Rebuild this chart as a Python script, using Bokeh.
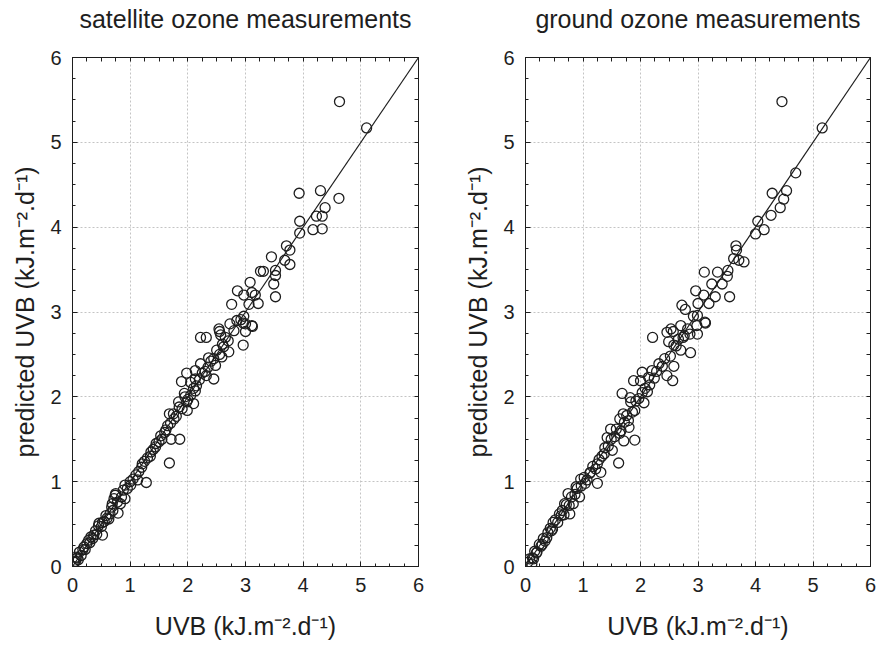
from bokeh.plotting import figure
from bokeh.layouts import row
from bokeh.models import LinearAxis, SingleIntervalTicker, FixedTicker, Range1d
from bokeh.embed import file_html
from bokeh.resources import INLINE

titles = ["satellite ozone measurements", "ground ozone measurements"]
x_label = "UVB (kJ.m\u207b\u00b2.d\u207b\u00b9)"
y_label = "predicted UVB (kJ.m\u207b\u00b2.d\u207b\u00b9)"
axis_min, axis_max = 0, 6
fit_line = [0, 6]

# satellite ozone: measured UVB vs predicted UVB
sat_obs = [
    4.63, 5.10, 3.93, 4.30, 4.62, 4.38, 4.23, 4.33, 3.94, 4.17, 4.33, 3.94, 3.71, 3.77, 3.45, 3.68, 3.77,
    3.26, 3.31, 3.52, 3.52, 3.49, 3.52, 3.08, 2.86, 2.97, 3.11, 3.17, 2.76, 3.06, 3.22, 2.97, 2.92, 2.73,
    3.11, 3.00, 2.54,
    2.22, 2.32, 2.55, 2.96, 3.12, 2.96, 3.00, 2.57, 2.62, 2.71, 2.59, 2.48, 2.36, 2.22, 2.32, 2.45, 2.13,
    1.98, 1.89, 2.05, 2.13, 2.13, 1.94, 1.84, 1.98, 2.10, 1.99, 1.68, 1.76, 1.53, 1.62, 1.71, 1.86, 1.44,
    1.36, 1.21, 1.68, 1.28, 1.13, 1.01, 0.91, 0.75, 0.74, 0.69, 0.83, 0.91, 0.79, 0.63, 0.52, 0.46, 0.37,
    0.52, 0.28, 0.20, 0.12, 0.06, 0.03,
    0.05, 0.08, 0.10, 0.15, 0.18, 0.22, 0.25, 0.30, 0.32, 0.35, 0.40, 0.42, 0.45, 0.50, 0.55, 0.58, 0.60,
    0.65, 0.68, 0.70, 0.72, 0.78, 0.85, 0.88, 0.95, 1.00, 1.05, 1.10, 1.15, 1.20, 1.25, 1.30, 1.35, 1.40,
    1.45, 1.50, 1.55, 1.60, 1.65, 1.70, 1.75, 1.80, 1.85, 1.90, 1.95, 2.00, 2.05, 2.10, 2.15, 2.20, 2.25,
    2.30, 2.35, 2.40, 2.45, 2.50, 2.55, 2.60, 2.65, 2.70, 2.80, 2.85,
]
sat_pred = [
    5.48, 5.17, 4.40, 4.43, 4.34, 4.23, 4.13, 4.13, 4.07, 3.97, 3.98, 3.93, 3.78, 3.73, 3.65, 3.61, 3.56,
    3.48, 3.48, 3.49, 3.43, 3.33, 3.18, 3.35, 3.25, 3.20, 3.23, 3.20, 3.09, 3.09, 3.10, 2.95, 2.91, 2.86,
    2.84, 2.86, 2.80,
    2.70, 2.70, 2.77, 2.87, 2.83, 2.61, 2.77, 2.73, 2.59, 2.53, 2.47, 2.37, 2.46, 2.39, 2.25, 2.21, 2.31,
    2.28, 2.18, 2.17, 2.21, 2.07, 2.04, 1.94, 1.94, 1.92, 1.84, 1.80, 1.74, 1.54, 1.61, 1.50, 1.50, 1.41,
    1.35, 1.21, 1.22, 0.99, 1.02, 0.96, 0.96, 0.86, 0.84, 0.74, 0.74, 0.80, 0.63, 0.56, 0.52, 0.51, 0.37,
    0.37, 0.31, 0.23, 0.17, 0.11, 0.05,
    0.06, 0.10, 0.08, 0.13, 0.20, 0.20, 0.27, 0.28, 0.35, 0.33, 0.42, 0.38, 0.48, 0.47, 0.53, 0.60, 0.57,
    0.62, 0.70, 0.66, 0.80, 0.76, 0.82, 0.90, 0.92, 1.00, 1.03, 1.08, 1.12, 1.17, 1.24, 1.28, 1.30, 1.38,
    1.45, 1.47, 1.50, 1.58, 1.66, 1.69, 1.80, 1.77, 1.88, 1.86, 2.00, 1.97, 2.02, 2.10, 2.13, 2.20, 2.28,
    2.30, 2.35, 2.42, 2.45, 2.55, 2.50, 2.62, 2.70, 2.66, 2.78, 2.90,
]

# ground ozone: measured UVB vs predicted UVB
gnd_obs = [
    4.46, 5.16, 4.70, 4.29, 4.54, 4.49, 4.43, 4.27, 4.04, 4.15, 4.00, 3.66, 3.67, 3.80, 3.71, 3.62, 3.52,
    3.34, 3.11, 3.51, 3.42, 3.24, 3.30, 3.55, 2.96, 3.10, 3.19, 3.00, 2.72, 2.78, 2.99, 3.12, 2.98, 2.70,
    2.53,
    2.21, 2.46, 2.57, 3.13, 2.74, 2.86, 2.99, 2.49, 2.58, 2.70, 2.87, 2.58, 2.56, 2.46, 2.32, 2.20, 2.14,
    2.03, 1.88, 2.00, 2.12, 1.68, 1.82, 1.83, 2.06, 1.90, 1.70, 1.79, 1.64, 1.80, 1.48, 1.42, 1.64, 1.90,
    1.71, 1.51, 1.37, 1.62, 1.25, 1.31, 1.13, 1.25, 0.96, 1.04, 0.88, 0.94, 0.74, 0.83, 0.77, 0.68, 0.62,
    0.48, 0.45, 0.37, 0.29, 0.20, 0.14, 0.11,
    0.04, 0.07, 0.12, 0.16, 0.19, 0.24, 0.27, 0.31, 0.34, 0.39, 0.43, 0.47, 0.52, 0.56, 0.59, 0.64, 0.67,
    0.71, 0.76, 0.80, 0.86, 0.90, 0.97, 1.02, 1.07, 1.12, 1.17, 1.22, 1.28, 1.33, 1.38, 1.44, 1.49, 1.55,
    1.58, 1.66, 1.72, 1.76, 1.86, 1.92, 1.97, 2.03, 2.08, 2.16, 2.24, 2.28, 2.38, 2.42, 2.52, 2.62, 2.66,
    2.76, 2.82, 2.92,
]
gnd_pred = [
    5.48, 5.17, 4.64, 4.40, 4.43, 4.33, 4.23, 4.14, 4.07, 3.97, 3.92, 3.78, 3.73, 3.59, 3.61, 3.63, 3.49,
    3.47, 3.47, 3.42, 3.33, 3.33, 3.18, 3.18, 3.25, 3.20, 3.10, 3.10, 3.08, 3.03, 2.96, 2.88, 2.84, 2.84,
    2.80,
    2.70, 2.76, 2.77, 2.87, 2.70, 2.74, 2.74, 2.65, 2.61, 2.55, 2.52, 2.36, 2.19, 2.25, 2.39, 2.31, 2.23,
    2.29, 2.19, 2.19, 2.06, 2.04, 1.99, 1.94, 1.93, 1.84, 1.80, 1.72, 1.74, 1.64, 1.62, 1.52, 1.57, 1.49,
    1.48, 1.37, 1.33, 1.22, 1.21, 1.11, 1.11, 0.98, 1.03, 0.98, 0.94, 0.82, 0.86, 0.74, 0.62, 0.74, 0.60,
    0.52, 0.42, 0.34, 0.26, 0.17, 0.09, 0.03,
    0.05, 0.09, 0.10, 0.18, 0.16, 0.26, 0.24, 0.33, 0.30, 0.40, 0.45, 0.44, 0.55, 0.52, 0.62, 0.66, 0.61,
    0.73, 0.72, 0.82, 0.85, 0.92, 0.95, 1.05, 1.02, 1.10, 1.18, 1.15, 1.26, 1.30, 1.40, 1.42, 1.50, 1.53,
    1.62, 1.60, 1.70, 1.78, 1.82, 1.95, 1.98, 2.05, 2.10, 2.14, 2.22, 2.30, 2.36, 2.45, 2.48, 2.60, 2.68,
    2.72, 2.80, 2.95,
]

FONT = "Liberation Sans"
INK = "#1e1e1e"
quarter_ticks = [i / 4 for i in range(1, 24)]


def style_axis(ax):
    ax.ticker = SingleIntervalTicker(interval=1, num_minor_ticks=4)
    ax.major_tick_in = 5
    ax.major_tick_out = 0
    ax.minor_tick_in = 3
    ax.minor_tick_out = 0
    ax.axis_line_color = INK
    ax.major_tick_line_color = INK
    ax.minor_tick_line_color = INK
    ax.major_label_text_font = FONT
    ax.major_label_text_color = INK
    ax.major_label_text_font_size = "20px"
    ax.major_label_standoff = 11
    ax.axis_label_text_font = FONT
    ax.axis_label_text_font_size = "25px"
    ax.axis_label_text_font_style = "normal"
    ax.axis_label_text_color = INK


def mirror_axis(label=None):
    # tick marks only (no tick labels) for the top and right frame edges;
    # the top one carries the panel title as its axis label
    ax = LinearAxis(ticker=FixedTicker(ticks=[], minor_ticks=quarter_ticks))
    ax.minor_tick_in = 4
    ax.minor_tick_out = 0
    ax.minor_tick_line_color = INK
    ax.axis_line_color = INK
    ax.major_label_standoff = 0
    if label:
        ax.axis_label = label
        ax.axis_label_text_font = FONT
        ax.axis_label_text_font_size = "25px"
        ax.axis_label_text_font_style = "normal"
        ax.axis_label_text_color = INK
        ax.axis_label_standoff = 25
    return ax


def make_panel(title, obs, pred, bl, br):
    p = figure(width=440, height=645, x_range=Range1d(axis_min, axis_max),
               y_range=Range1d(axis_min, axis_max), output_backend="svg",
               toolbar_location=None, min_border_left=bl, min_border_right=br,
               min_border_top=57, min_border_bottom=79)
    style_axis(p.xaxis[0])
    style_axis(p.yaxis[0])
    p.xaxis[0].axis_label = x_label
    p.yaxis[0].axis_label = y_label
    p.xaxis[0].axis_label_standoff = 17
    p.yaxis[0].axis_label_standoff = 8
    p.add_layout(mirror_axis(title), "above")
    p.add_layout(mirror_axis(), "right")
    p.xgrid.grid_line_color = "#c4c4c4"
    p.ygrid.grid_line_color = "#c4c4c4"
    p.xgrid.grid_line_dash = "2 2"
    p.ygrid.grid_line_dash = "2 2"
    p.outline_line_color = INK
    p.outline_line_width = 1
    p.line(fit_line, fit_line, line_color=INK, line_width=1.2)
    p.scatter(obs, pred, marker="circle", size=10, fill_color=None,
              line_color=INK, line_width=1.3)
    return p


p1 = make_panel(titles[0], sat_obs, sat_pred, 72, 22)
p2 = make_panel(titles[1], gnd_obs, gnd_pred, 85, 10)
layout = row(p1, p2)

open("out.html", "w").write(file_html(layout, INLINE))
